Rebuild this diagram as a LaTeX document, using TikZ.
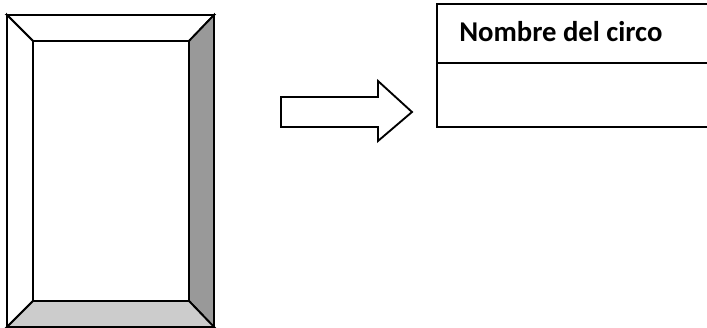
\documentclass[tikz,border=0pt]{standalone}
\usepackage{fontspec}
\setmainfont{Carlito}
\begin{document}
\begin{tikzpicture}[x=0.75pt,y=-0.75pt,
  edge/.style={draw=black,line width=1.4pt,line join=miter},
  label/.style={font=\fontsize{21.5}{24}\selectfont\bfseries,anchor=base west,inner sep=0pt}]
\useasboundingbox (0,0) rectangle (707,328);
% bevelled frame
\coordinate (o1) at (7,15);   \coordinate (o2) at (214,15);
\coordinate (o3) at (214,327);\coordinate (o4) at (7,327);
\coordinate (i1) at (33,41);  \coordinate (i2) at (189,41);
\coordinate (i3) at (189,301);\coordinate (i4) at (33,301);
\filldraw[edge,fill=white] (o1) -- (o2) -- (i2) -- (i1) -- cycle;
\filldraw[edge,fill=white] (o1) -- (i1) -- (i4) -- (o4) -- cycle;
\filldraw[edge,fill=black!40] (o2) -- (o3) -- (i3) -- (i2) -- cycle;
\filldraw[edge,fill=black!20] (o4) -- (i4) -- (i3) -- (o3) -- cycle;
\filldraw[edge,fill=white] (i1) rectangle (i3);
% block arrow
\filldraw[edge,fill=white] (281,97) -- (378,97) -- (378,81) -- (412,112)
  -- (378,141) -- (378,127) -- (281,127) -- cycle;
% title table, open on the right
\draw[edge] (708,4) -- (437,4) -- (437,127) -- (708,127);
\draw[edge] (437,63) -- (708,63);
\node[label] (title) at (459,42) {Nombre del circo};
\end{tikzpicture}
\end{document}
